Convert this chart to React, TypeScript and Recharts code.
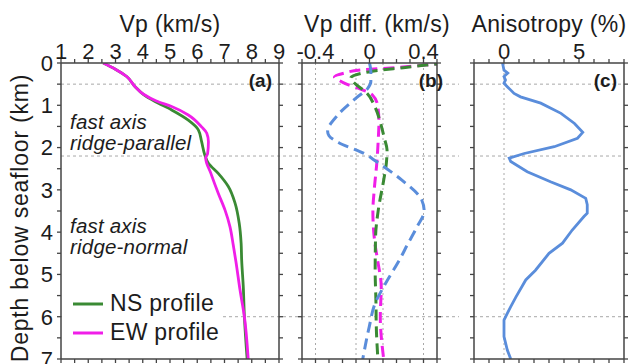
import { LineChart, Line, XAxis, YAxis, ReferenceLine, Legend } from "recharts";

const FONT = '"Liberation Sans", Arial, Helvetica, sans-serif';
const INK = "#1c1c1c";
const FRAME = "#444444";
const GREEN = "#3a8a34";
const MAGENTA = "#f01ee8";
const BLUE = "#5a8ddb";
const GRID = "#a8a8a8";

// shared depth axis (km)
const DEPTH_TICKS = [0, 0.5, 1, 1.5, 2, 2.5, 3, 3.5, 4, 4.5, 5, 5.5, 6, 6.5, 7];
const DEPTH_LABELS = [0, 1, 2, 3, 4, 5, 6, 7];
const LAYER_BOUNDS = [0.5, 2.2, 6.0];

// (a) Vp profiles
const VP_TICKS = [1, 1.5, 2, 2.5, 3, 3.5, 4, 4.5, 5, 5.5, 6, 6.5, 7, 7.5, 8, 8.5, 9];
const VP_LABELS = [1, 2, 3, 4, 5, 6, 7, 8, 9];
const nsDepth = [0, 0.14, 0.32, 0.56, 0.74, 0.91, 1.11, 1.35, 1.58, 1.86, 2.18, 2.37, 2.61, 2.92, 3.32, 3.79, 4.26, 4.66, 5.3, 6.0, 7.0];
const nsVp = [2.55, 2.98, 3.41, 3.72, 4.02, 4.45, 5.06, 5.67, 6.04, 6.16, 6.28, 6.41, 6.77, 7.14, 7.39, 7.54, 7.61, 7.63, 7.69, 7.73, 7.83];
const ewDepth = [0, 0.14, 0.32, 0.56, 0.74, 0.9, 1.03, 1.23, 1.51, 1.66, 1.86, 2.14, 2.25, 2.61, 3.08, 3.48, 3.87, 4.3, 4.7, 5.37, 6.0, 7.0];
const ewVp = [2.55, 2.98, 3.41, 3.72, 4.03, 4.5, 5.06, 5.67, 6.16, 6.35, 6.41, 6.38, 6.31, 6.5, 6.77, 7.02, 7.2, 7.32, 7.42, 7.57, 7.73, 7.87];
const LEGEND_ORDER = ["NS profile", "EW profile"];

// (b) Vp differences
const DIFF_TICKS = [-0.5, -0.4, -0.3, -0.2, -0.1, 0, 0.1, 0.2, 0.3, 0.4, 0.5];
const DIFF_LABELS = [-0.4, 0, 0.4];
const DIFF_GRID = [-0.4, -0.1, 0.1, 0.4];
const ewDiffDepth = [0, 0.05, 0.11, 0.16, 0.24, 0.33, 0.42, 0.5, 0.6, 0.75, 1.0, 1.4, 1.8, 2.33, 3.0, 3.5, 4.26, 4.66, 5.3, 6.0, 7.0];
const ewDiff = [0.56, 0.41, 0.19, -0.05, -0.19, -0.26, -0.22, -0.17, -0.08, 0.02, 0.06, 0.07, 0.065, 0.055, 0.035, 0.025, 0.04, 0.06, 0.087, 0.08, 0.105];
const nsDiffDepth = [0, 0.05, 0.11, 0.2, 0.36, 0.48, 0.68, 1.07, 1.4, 1.78, 2.06, 2.36, 2.77, 3.48, 4.1, 4.9, 5.68, 6.2, 7.0];
const nsDiff = [0.56, 0.42, 0.25, 0.01, -0.14, -0.11, -0.03, 0.045, 0.08, 0.11, 0.13, 0.125, 0.105, 0.065, 0.045, 0.042, 0.048, 0.05, 0.062];
const azDiffDepth = [0, 0.2, 0.44, 0.6, 0.83, 1.23, 1.62, 1.72, 1.88, 2.14, 2.33, 2.77, 3.24, 3.5, 3.87, 4.3, 4.58, 5.29, 5.68, 6.24, 7.0];
const azDiff = [0.0, 0.01, 0.01, -0.013, -0.1, -0.235, -0.31, -0.3, -0.23, -0.04, 0.05, 0.24, 0.387, 0.405, 0.353, 0.28, 0.235, 0.105, 0.042, -0.002, -0.05];

// (c) anisotropy
const ANI_TICKS = [-2, -1, 0, 1, 2, 3, 4, 5, 6, 7, 8];
const ANI_LABELS = [0, 5];
const ANI_GRID = [0];
const aniDepth = [0, 0.17, 0.24, 0.32, 0.4, 0.48, 0.56, 0.72, 0.8, 0.95, 1.19, 1.43, 1.64, 1.78, 1.98, 2.14, 2.25, 2.33, 2.57, 2.81, 3.0, 3.2, 3.35, 3.55, 3.63, 3.95, 4.26, 4.5, 4.9, 5.13, 5.53, 5.76, 5.92, 6.08, 6.47, 6.79, 7.0];
const aniPct = [-0.1, 0, 0.25, 0, 0.1, 0, 0.22, 0.67, 1.1, 2.45, 3.8, 4.7, 5.25, 4.9, 3.35, 1.35, 0.35, 0.45, 1.55, 3.1, 4.45, 5.45, 5.55, 5.55, 5.33, 4.55, 3.9, 3.0, 2.1, 1.45, 0.8, 0.45, 0.22, 0, 0, 0.22, 0.45];

const rows = (depth: number[], v: number[]) => depth.map((d, i) => ({ depth: d, v: v[i] }));

const TICK = 4;
const has = (list: number[], v: number) => list.some((l) => Math.abs(l - v) < 1e-9);
const axisLine = { stroke: FRAME, strokeWidth: 1.5 };

const topTick = (labels: number[]) => (p: any) => (
  <g>
    <line x1={p.x} x2={p.x} y1={p.y} y2={p.y - TICK} stroke={FRAME} strokeWidth={1.3} />
    {has(labels, p.payload.value) && (
      <text x={p.x} y={p.y - 4} textAnchor="middle" fontSize={22} fill={INK} fontFamily={FONT}>
        {String(p.payload.value)}
      </text>
    )}
  </g>
);
const bottomTick = (p: any) => (
  <line x1={p.x} x2={p.x} y1={p.y} y2={p.y + TICK} stroke={FRAME} strokeWidth={1.3} />
);
const leftTick = (labels: number[]) => (p: any) => (
  <g>
    <line x1={p.x} x2={p.x - TICK} y1={p.y} y2={p.y} stroke={FRAME} strokeWidth={1.3} />
    {has(labels, p.payload.value) && (
      <text x={p.x - 8} y={p.y} dy="0.36em" textAnchor="end" fontSize={22} fill={INK} fontFamily={FONT}>
        {String(p.payload.value)}
      </text>
    )}
  </g>
);
const rightTick = (p: any) => (
  <line x1={p.x} x2={p.x + TICK} y1={p.y} y2={p.y} stroke={FRAME} strokeWidth={1.3} />
);

// layer boundaries run on across the gap to the next panel
const boundary = (extra: number) => (p: any) => (
  <line x1={p.x1} y1={p.y1} x2={p.x2 + extra} y2={p.y2} stroke={GRID} strokeWidth={1} strokeDasharray="3 3" />
);

const renderLegend = (props: any) => {
  const items = [...(props.payload || [])].sort(
    (a: any, b: any) => LEGEND_ORDER.indexOf(a.value) - LEGEND_ORDER.indexOf(b.value)
  );
  return (
    <div style={{ background: "#fff", padding: "2px 0 2px 11px", fontFamily: FONT }}>
      {items.map((e: any) => (
        <div key={e.value} style={{ display: "flex", alignItems: "center", height: 29 }}>
          <svg width={30} height={4}>
            <line x1={0} x2={30} y1={2} y2={2} stroke={e.color} strokeWidth={3} />
          </svg>
          <span style={{ fontSize: 23, marginLeft: 7, color: INK, letterSpacing: 0.3 }}>{e.value}</span>
        </div>
      ))}
    </div>
  );
};

type Series = { name: string; data: { depth: number; v: number }[]; color: string; dashed?: boolean; curve?: "monotone" | "linear" };

type PanelProps = {
  left: number;
  width: number;
  margin: { top: number; right: number; bottom: number; left: number };
  leftWidth: number;
  domain: [number, number];
  ticks: number[];
  labels: number[];
  depthLabels: number[];
  grid: number[];
  extend: number;
  series: Series[];
  legend?: boolean;
};

function Panel(p: PanelProps) {
  return (
    <div style={{ position: "absolute", left: p.left, top: 0 }}>
      <LineChart layout="vertical" width={p.width} height={364} margin={p.margin}>
        <XAxis xAxisId="top" orientation="top" type="number" domain={p.domain} ticks={p.ticks} interval={0}
          allowDataOverflow height={30} tickSize={0} tickMargin={0} axisLine={axisLine} tick={topTick(p.labels)} />
        <XAxis xAxisId="bottom" orientation="bottom" type="number" domain={p.domain} ticks={p.ticks} interval={0}
          allowDataOverflow height={5} tickSize={0} tickMargin={0} axisLine={axisLine} tick={bottomTick} />
        <YAxis yAxisId="left" orientation="left" type="number" dataKey="depth" domain={[0, 7]} ticks={DEPTH_TICKS}
          interval={0} allowDataOverflow width={p.leftWidth} tickSize={0} tickMargin={0} axisLine={axisLine}
          tick={leftTick(p.depthLabels)} />
        <YAxis yAxisId="right" orientation="right" type="number" dataKey="depth" domain={[0, 7]} ticks={DEPTH_TICKS}
          interval={0} allowDataOverflow width={5} tickSize={0} tickMargin={0} axisLine={axisLine} tick={rightTick} />
        {p.grid.map((g) => (
          <ReferenceLine key={`g${g}`} xAxisId="top" yAxisId="left" x={g} stroke={GRID} strokeWidth={1} strokeDasharray="2 3" />
        ))}
        {LAYER_BOUNDS.map((d) => (
          <ReferenceLine key={`b${d}`} xAxisId="top" yAxisId="left" y={d} shape={boundary(p.extend)} />
        ))}
        {p.series.map((s) => (
          <Line key={s.name} xAxisId="top" yAxisId="left" data={s.data} dataKey="v" name={s.name}
            type={s.curve || "monotone"} stroke={s.color} strokeWidth={s.dashed ? 3 : 2.8}
            strokeDasharray={s.dashed ? "11 6" : undefined} dot={false} activeDot={false}
            isAnimationActive={false} />
        ))}
        {p.legend && (
          <Legend layout="vertical" align="center" verticalAlign="middle" content={renderLegend}
            wrapperStyle={{ left: 62, top: 287, width: 158 }} />
        )}
      </LineChart>
    </div>
  );
}

export default function App() {
  return (
    <div style={{ position: "absolute", left: 0, top: 0, width: 631, height: 364, background: "#fff", fontFamily: FONT, overflow: "hidden" }}>
      <Panel left={0} width={302} margin={{ top: 33, right: 18, bottom: 0, left: 21 }} leftWidth={40}
        domain={[1, 9]} ticks={VP_TICKS} labels={VP_LABELS} depthLabels={DEPTH_LABELS} grid={[]} extend={23}
        legend
        series={[
          { name: "NS profile", data: rows(nsDepth, nsVp), color: GREEN },
          { name: "EW profile", data: rows(ewDepth, ewVp), color: MAGENTA },
        ]} />
      <Panel left={285} width={190} margin={{ top: 33, right: 33, bottom: 0, left: 7 }} leftWidth={10}
        domain={[-0.5, 0.5]} ticks={DIFF_TICKS} labels={DIFF_LABELS} depthLabels={[]} grid={DIFF_GRID} extend={22}
        series={[
          { name: "EW diff", data: rows(ewDiffDepth, ewDiff), color: MAGENTA, dashed: true },
          { name: "NS diff", data: rows(nsDiffDepth, nsDiff), color: GREEN, dashed: true },
          { name: "NS-EW diff", data: rows(azDiffDepth, azDiff), color: BLUE, dashed: true },
        ]} />
      <Panel left={460} width={171} margin={{ top: 33, right: 2, bottom: 0, left: 4 }} leftWidth={10}
        domain={[-2, 8]} ticks={ANI_TICKS} labels={ANI_LABELS} depthLabels={[]} grid={ANI_GRID} extend={0}
        series={[{ name: "Anisotropy", data: rows(aniDepth, aniPct), color: BLUE, curve: "linear" }]} />
      <svg width={631} height={364} style={{ position: "absolute", left: 0, top: 0, pointerEvents: "none" }}
        fontFamily={FONT} fill={INK}>
        <text x={170} y={32} fontSize={23} letterSpacing={0.3} textAnchor="middle">Vp (km/s)</text>
        <text x={377} y={32} fontSize={23} letterSpacing={0.3} textAnchor="middle">Vp diff. (km/s)</text>
        <text x={549} y={32} fontSize={23} letterSpacing={0.3} textAnchor="middle">Anisotropy (%)</text>
        <text transform="translate(28,218) rotate(-90)" fontSize={23} letterSpacing={0.8} textAnchor="middle">
          Depth below seafloor (km)
        </text>
        <text x={272} y={87} fontSize={19} fontWeight="bold" textAnchor="end">(a)</text>
        <text x={443} y={87} fontSize={19} fontWeight="bold" textAnchor="end">(b)</text>
        <text x={617} y={87} fontSize={19} fontWeight="bold" textAnchor="end">(c)</text>
        <text x={70} y={129} fontSize={20.5} fontStyle="italic" letterSpacing={0.2}>fast axis</text>
        <text x={70} y={150} fontSize={20.5} fontStyle="italic" letterSpacing={0.2}>ridge-parallel</text>
        <text x={70} y={233} fontSize={20.5} fontStyle="italic" letterSpacing={0.2}>fast axis</text>
        <text x={70} y={254} fontSize={20.5} fontStyle="italic" letterSpacing={0.2}>ridge-normal</text>
      </svg>
    </div>
  );
}
